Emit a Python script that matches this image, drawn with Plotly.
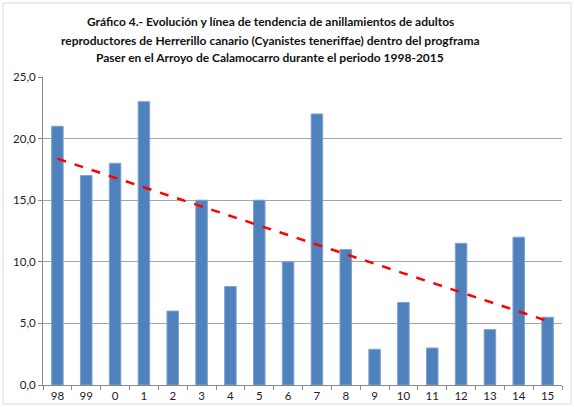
import numpy as np
import plotly.graph_objects as go

years = ["98", "99", "0", "1", "2", "3", "4", "5", "6", "7", "8", "9", "10", "11", "12", "13", "14", "15"]
adults = [21, 17, 18, 23, 6, 15, 8, 15, 10, 22, 11, 2.9, 6.7, 3, 11.5, 4.5, 12, 5.5]
y_ticks = [0, 5, 10, 15, 20, 25]

title_lines = [
    "Gráfico 4.- Evolución y línea de tendencia de anillamientos de adultos",
    "reproductores de Herrerillo canario (Cyanistes teneriffae) dentro del progframa",
    "Paser en el Arroyo de Calamocarro durante el periodo 1998-2015",
]

# linear trendline (as Excel's)
idx = np.arange(len(adults))
slope, intercept = np.polyfit(idx, adults, 1)
trend = slope * idx + intercept

fig = go.Figure()
fig.add_trace(go.Bar(
    x=years, y=adults,
    marker=dict(color="#4F81BD", line=dict(color="#7FA3D3", width=1)),
    showlegend=False,
))
fig.add_trace(go.Scatter(
    x=years, y=trend, mode="lines",
    line=dict(color="#FF0000", width=2.5, dash="dash"),
    showlegend=False,
))

L, R, T, B = 43, 12, 77, 22
W, H = 574, 407
ph = H - T - B
pw = W - L - R

fig.update_layout(
    width=W, height=H,
    margin=dict(l=L, r=R, t=T, b=B, autoexpand=False),
    paper_bgcolor="white", plot_bgcolor="white",
    separators=",.",
    bargap=0.6,
    font=dict(family="Lato, Liberation Sans, sans-serif", size=11.5, color="#222222"),
    xaxis=dict(
        type="category", tickson="boundaries", ticks="outside", ticklen=4,
        tickcolor="#888888", showline=True, linecolor="#888888", linewidth=1,
        showgrid=False,
    ),
    yaxis=dict(
        range=[0, 25], tickvals=y_ticks, tickformat=".1f",
        ticks="outside", ticklen=4, tickcolor="#888888",
        showline=True, linecolor="#888888", linewidth=1,
        showgrid=True, gridcolor="#A6A6A6", gridwidth=1,
        zeroline=False,
    ),
)

for line, ypx in zip(title_lines, [22, 40, 57]):
    fig.add_annotation(
        text=line, xref="paper", yref="paper",
        x=(270 - L) / pw, y=(H - B - ypx) / ph,
        xanchor="center", yanchor="middle", showarrow=False,
        font=dict(family="Lato, sans-serif", size=12, color="#111111", weight="bold"),
    )

fig.add_shape(type="rect", xref="paper", yref="paper",
              x0=-40 / pw, x1=1 + 9 / pw, y0=-19 / ph, y1=1 + 74 / ph,
              line=dict(color="#D9D9D9", width=1), layer="below")

fig.write_html("out.html", config={"displayModeBar": False},
               post_script="document.body.style.margin='0';")
